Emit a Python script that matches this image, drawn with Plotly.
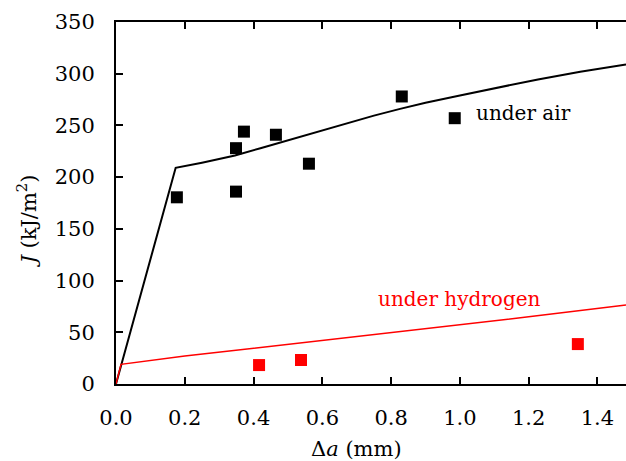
import plotly.graph_objects as go

# Measured data (squares)
air_x = [0.177, 0.349, 0.349, 0.372, 0.465, 0.561, 0.831, 0.985]
air_y = [180.5, 186.0, 228.0, 244.0, 241.0, 213.0, 278.0, 257.0]
h2_x = [0.416, 0.538, 1.343]
h2_y = [18.3, 23.2, 38.6]

# Model curves
air_curve_x = [0.0, 0.1735, 0.25, 0.346, 0.42, 0.515, 0.6, 0.68, 0.75, 0.826, 0.9, 1.0, 1.1, 1.227, 1.35, 1.483]
air_curve_y = [0.0, 209.0, 214.0, 221.0, 228.0, 237.0, 245.0, 253.0, 259.5, 266.0, 272.0, 279.0, 286.0, 294.5, 302.0, 309.0]
h2_curve_x = [0.0, 0.0145, 0.2, 0.4, 0.6, 0.738, 0.9, 1.0, 1.2, 1.483]
h2_curve_y = [0.0, 19.0, 27.0, 34.5, 42.0, 47.0, 53.5, 57.5, 65.0, 76.3]

x_ticks = [0.0, 0.2, 0.4, 0.6, 0.8, 1.0, 1.2, 1.4]
y_ticks = [0, 50, 100, 150, 200, 250, 300, 350]

FONT = "DejaVu Serif"

fig = go.Figure()
fig.add_trace(go.Scatter(x=air_curve_x, y=air_curve_y, mode="lines",
                         line=dict(color="black", width=2), showlegend=False))
fig.add_trace(go.Scatter(x=h2_curve_x, y=h2_curve_y, mode="lines",
                         line=dict(color="#ff0000", width=1.5), showlegend=False))
fig.add_trace(go.Scatter(x=air_x, y=air_y, mode="markers",
                         marker=dict(symbol="square", size=12, color="black", line=dict(width=0)),
                         showlegend=False))
fig.add_trace(go.Scatter(x=h2_x, y=h2_y, mode="markers",
                         marker=dict(symbol="square", size=12, color="#ff0000", line=dict(width=0)),
                         showlegend=False))

axis_common = dict(showgrid=False, zeroline=False, showline=True, linecolor="black", linewidth=2,
                   ticks="inside", ticklen=7, tickwidth=1.5, tickcolor="black",
                   tickfont=dict(family=FONT, size=21, color="black"))

fig.update_xaxes(range=[0, 1.483], tickvals=x_ticks, ticktext=[f"{v:.1f}" for v in x_ticks],
                 mirror="ticks", ticklabelstandoff=14, **axis_common)
fig.update_yaxes(range=[0, 350], tickvals=y_ticks, ticktext=[str(v) for v in y_ticks],
                 mirror=False, ticklabelstandoff=15, **axis_common)

fig.add_annotation(text="under air", x=1.186, y=261.7, xref="x", yref="y", showarrow=False,
                   font=dict(family=FONT, size=20, color="black"))
fig.add_annotation(text="under hydrogen", x=1.0, y=82, xref="x", yref="y", showarrow=False,
                   font=dict(family=FONT, size=20, color="#ff0000"))
fig.add_annotation(text="Δ<i>a</i> (mm)", x=0.70, y=0, xref="x", yref="paper", yshift=-65,
                   yanchor="middle", showarrow=False, font=dict(family=FONT, size=21, color="black"))
fig.add_annotation(text="<i>J</i> (kJ/m<sup>2</sup>)", x=0, xref="paper", xshift=-89, xanchor="center",
                   y=157, yref="y", yanchor="middle", textangle=-90, showarrow=False,
                   font=dict(family=FONT, size=21, color="black"))

fig.update_layout(width=626, height=461, margin=dict(l=116, r=0, t=22, b=77),
                  plot_bgcolor="white", paper_bgcolor="white")

fig.write_html("out.html")
